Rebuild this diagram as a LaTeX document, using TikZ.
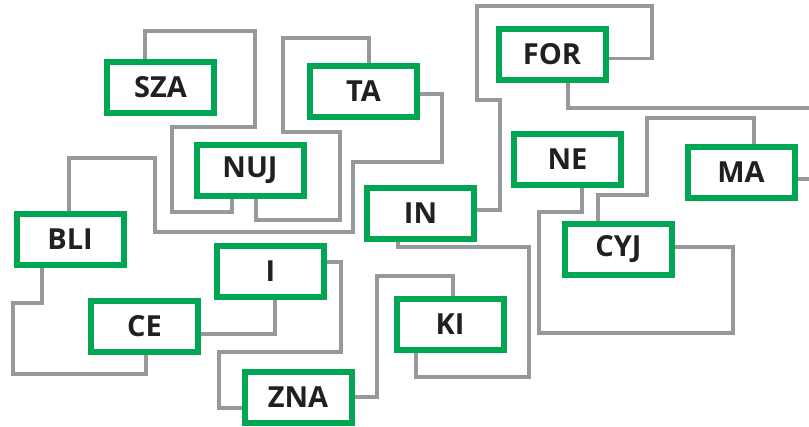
\documentclass[tikz,border=0pt]{standalone}
\usepackage{fontspec}
\setmainfont{Open Sans}
\definecolor{boxgreen}{HTML}{00A651}
\definecolor{linkgray}{HTML}{97989C}
\definecolor{ink}{HTML}{231F20}
\tikzset{
  box/.style={draw=boxgreen,line width=6pt,fill=white,minimum width=107pt,
    minimum height=51pt,inner sep=0pt,text=ink,
    font=\fontsize{29}{32}\selectfont\bfseries},
  link/.style={draw=linkgray,line width=3.3pt}
}
\begin{document}
\begin{tikzpicture}[x=1pt,y=-1pt]
  \useasboundingbox (0,0) rectangle (809,426);
  % boxes:
  \node[box] (sza) at (160.5,87.5) {SZA};
  \node[box] (nuj) at (250,170.5) {NUJ};
  \node[box] (ta) at (363.5,91) {TA};
  \node[box] (in) at (420.5,213) {IN};
  \node[box] (for) at (552,54.5) {FOR};
  \node[box] (ne) at (567.5,159.5) {NE};
  \node[box] (ma) at (741,172.5) {MA};
  \node[box] (cyj) at (618.5,249) {CYJ};
  \node[box] (bli) at (70,239.5) {BLI};
  \node[box] (i) at (270.5,271) {I};
  \node[box] (ce) at (144.5,326) {CE};
  \node[box] (zna) at (298,397) {ZNA};
  \node[box] (ki) at (450,324.5) {KI};
  % loose ends leaving the picture on the right:
  \coordinate (forout) at (815,108);
  \coordinate (maout) at (815,179);
  % SZA to NUJ:
  \draw[link] ([xshift=-15.5]sza.north) |- (255,31) |- (172,127) |- (232,212)
    -- ([xshift=-18]nuj.south);
  % NUJ to TA:
  \draw[link] ([xshift=6]nuj.south) |- (340,220) |- (283,132) |- (369,38)
    -- ([xshift=5.5]ta.north);
  % BLI to TA:
  \draw[link] ([xshift=-1]bli.north) |- (155,158) |- (353,232) |- (442,162)
    |- ([yshift=-3]ta.east);
  % IN to FOR:
  \draw[link] ([yshift=3]in.east) -| (500,100) -| (477,6) -- (652,6)
    |- ([yshift=-4]for.east);
  % FOR out of the picture:
  \draw[link] ([xshift=16]for.south) |- (forout);
  % MA to CYJ:
  \draw[link] ([xshift=13]ma.north) |- (647,118) |- (598,195)
    -- ([xshift=-20.5]cyj.north);
  % MA out of the picture:
  \draw[link] ([yshift=-6.5]ma.east) -- (maout);
  % NE to CYJ:
  \draw[link] ([xshift=14.5]ne.south) |- (539,212) |- (733,333)
    |- ([yshift=2]cyj.east);
  % IN to KI:
  \draw[link] ([xshift=-22.5]in.south) |- (529,247) |- (416,377)
    -- ([xshift=-34]ki.south);
  % KI to ZNA:
  \draw[link] ([xshift=3]ki.north) |- (377,276) |- (zna.east);
  % BLI to CE:
  \draw[link] ([xshift=-28]bli.south) |- (13,303) |- (146,374)
    -- ([xshift=1.5]ce.south);
  % CE to I:
  \draw[link] ([yshift=-8]ce.east) -| ([xshift=4.5]i.south);
  % I to ZNA:
  \draw[link] ([yshift=9]i.east) -| (341,352) -| (219,408)
    -- ([yshift=-11]zna.west);
\end{tikzpicture}
\end{document}
